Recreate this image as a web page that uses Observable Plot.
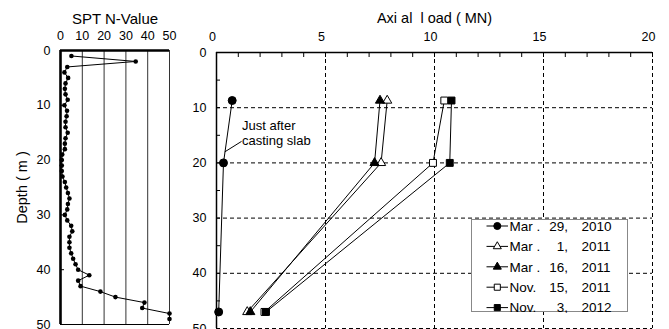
<!DOCTYPE html>
<html><head><meta charset="utf-8">
<script src="https://cdn.jsdelivr.net/npm/d3@7"></script>
<script src="https://cdn.jsdelivr.net/npm/@observablehq/plot@0.6"></script>
<style>
body{margin:0;background:#fff;}
#wrap{position:relative;width:669px;height:329px;overflow:hidden;background:#fff;font-family:"Liberation Sans",Arial,sans-serif;}
#wrap > svg{position:absolute;top:0;}
</style></head><body><div id="wrap"></div>
<script>
// ---- SPT N-value profile ----
const sptDepth = [1,2,3,4,5,6,7,8,9,10,11,12,13,14,15,16,17,18,19,20,21,22,23,24,25,26,27,28,29,30,31,32,33,34,35,36,37,38,39,40,41,42,43,44,45,46,47,48,49];
const sptN = [5.0,34.5,3.1,1.8,3.5,2.3,2.0,2.3,3.3,1.8,3.0,2.8,2.3,2.3,3.3,2.3,2.0,2.0,0.8,0.6,0.6,0.6,0.9,2.0,2.6,3.4,4.1,3.4,3.1,2.0,3.1,4.9,5.4,4.1,4.1,4.1,4.9,5.8,6.9,8.1,13.2,8.1,9.2,18.3,25.2,38.5,37.5,50,50];
const sptTicks = [0,10,20,30,40,50];
const sptGrid = [10,20,30,40,50];
const depthTicks = [0,10,20,30,40,50];
const depthInnerTicks = [10,20,30,40];

// ---- Axial load profiles ----
const loadTicks = [0,5,10,15,20];
const loadMinorTicks = [0,1,2,3,4,5,6,7,8,9,10,11,12,13,14,15,16,17,18,19,20];
const depthMinorTicks = [0,5,10,15,20,25,30,35,40,45,50];
const loadGridX = [5,10,15,20];
const loadGridY = [10,20,30,40,50];
const loadDepths = [8.7, 20, 47];
const surveyDates = ["Mar. 29, 2010","Mar. 1, 2011","Mar. 16, 2011","Nov. 15, 2011","Nov. 3, 2012"];
const loadMar29_2010 = [0.72, 0.32, 0.10];
const loadMar01_2011 = [7.83, 7.55, 1.41];
const loadMar16_2011 = [7.50, 7.25, 1.55];
const loadNov15_2011 = [10.45, 9.93, 2.20];
const loadNov03_2012 = [10.78, 10.70, 2.27];
const seriesLoads = [loadMar29_2010, loadMar01_2011, loadMar16_2011, loadNov15_2011, loadNov03_2012];
const seriesSymbol = ["circle","triangle","triangle","square","square"];
const seriesFill = ["#000","#fff","#000","#fff","#000"];
const seriesR = [4, 3.4, 3.4, 3.9, 3.9];
const legendMonth = ["Mar .","Mar .","Mar .","Nov.","Nov."];
const legendDay = ["29,","1,","16,","15,","3,"];
const legendYear = ["2010","2011","2011","2011","2012"];
const annotationText = ["Just after\ncasting slab"];
const annotationAt = {load: 1.17, depth: 14.6};
const leader = {load1: 0.38, depth1: 18.0, load2: 1.15, depth2: 16.1};

const FONT = '"Liberation Sans", Arial, sans-serif';
const wrap = document.getElementById("wrap");

// ---------- left panel ----------
const sptRows = sptDepth.map((d, i) => ({depth: d, n: sptN[i]}));
const left = Plot.plot({
  width: 180, height: 329,
  marginLeft: 60, marginRight: 11, marginTop: 50, marginBottom: 5,
  x: {domain: [0, 50]},
  y: {domain: [0, 50], reverse: true},
  style: {fontFamily: FONT, fontSize: "12.5px", color: "#000", background: "transparent", overflow: "visible"},
  marks: [
    Plot.ruleX(sptGrid, {stroke: "#333", strokeWidth: 1}),
    Plot.ruleY([50], {stroke: "#000", strokeWidth: 1}),
    Plot.line(sptRows, {x: "n", y: "depth", stroke: "#000", strokeWidth: 1}),
    Plot.dot(sptRows, {x: "n", y: "depth", r: 2.3, fill: "#000"}),
    Plot.ruleX([0], {stroke: "#000", strokeWidth: 2.6}),
    Plot.ruleY([0], {stroke: "#000", strokeWidth: 2.6}),
    Plot.axisX({anchor: "top", ticks: sptTicks, tickSize: 0, tickPadding: 11, label: null, fill: "#000"}),
    Plot.axisY({anchor: "left", ticks: depthTicks, tickSize: 0, tickPadding: 10, label: null, fill: "#000"}),
    Plot.axisY({anchor: "left", ticks: depthInnerTicks, tickSize: -4, tickFormat: () => "", label: null, stroke: "#000"}),
    Plot.text(["SPT N-Value"], {frameAnchor: "top", dy: -31, lineAnchor: "middle", fontSize: 15, fill: "#000"}),
    Plot.text(["Depth ( m )"], {frameAnchor: "left", dx: -38.5, rotate: -90, textAnchor: "middle", lineAnchor: "middle", fontSize: 14.5, fill: "#000"})
  ]
});
left.style.left = "0px";
wrap.appendChild(left);

// ---------- right panel ----------
const seriesMarks = [];
seriesLoads.forEach((vals, s) => {
  const rows = vals.map((v, i) => ({load: v, depth: loadDepths[i], date: surveyDates[s]}));
  seriesMarks.push(Plot.line(rows, {x: "load", y: "depth", stroke: "#000", strokeWidth: 1}));
});
seriesLoads.forEach((vals, s) => {
  const rows = vals.map((v, i) => ({load: v, depth: loadDepths[i], date: surveyDates[s]}));
  seriesMarks.push(Plot.dot(rows, {x: "load", y: "depth", symbol: () => seriesSymbol[s], r: seriesR[s], fill: seriesFill[s], stroke: "#000", strokeWidth: 1}));
});

const right = Plot.plot({
  width: 489, height: 329,
  marginLeft: 36, marginRight: 17, marginTop: 52, marginBottom: 1,
  x: {domain: [0, 20]},
  y: {domain: [0, 50], reverse: true},
  symbol: {type: "identity"},
  style: {fontFamily: FONT, fontSize: "12.5px", color: "#000", background: "transparent", overflow: "visible"},
  marks: [
    Plot.ruleX(loadGridX, {stroke: "#000", strokeWidth: 1, strokeDasharray: "4,3"}),
    Plot.ruleY(loadGridY, {stroke: "#000", strokeWidth: 1, strokeDasharray: "4,3"}),
    Plot.ruleX([0], {stroke: "#000", strokeWidth: 1.5}),
    Plot.ruleY([0], {stroke: "#000", strokeWidth: 1.5}),
    Plot.axisX({anchor: "top", ticks: loadMinorTicks, tickSize: -4, tickFormat: () => "", label: null, stroke: "#000"}),
    Plot.axisY({anchor: "left", ticks: depthMinorTicks, tickSize: -4, tickFormat: () => "", label: null, stroke: "#000"}),
    Plot.axisX({anchor: "top", ticks: loadTicks, tickSize: 0, tickPadding: 12, dx: -4, label: null, fill: "#000"}),
    Plot.axisY({anchor: "left", ticks: depthTicks, tickSize: 0, tickPadding: 10, label: null, fill: "#000"}),
    Plot.text(["Axi al  l oad ( MN)"], {frameAnchor: "top", dy: -34, lineAnchor: "middle", fontSize: 14.5, fill: "#000"}),
    Plot.link([leader], {x1: "load1", y1: "depth1", x2: "load2", y2: "depth2", stroke: "#000", strokeWidth: 1}),
    Plot.text(annotationText, {x: () => annotationAt.load, y: () => annotationAt.depth, textAnchor: "start", lineAnchor: "middle", lineHeight: 1.15, fontSize: 13, fill: "#000"}),
    ...seriesMarks
  ]
});
right.style.left = "180px";
wrap.appendChild(right);

// ---------- legend (inside the load panel) ----------
const lg = d3.select(wrap).append("svg")
  .attr("width", 158).attr("height", 94)
  .style("left", "471px").style("top", "219px")
  .style("font-family", FONT).style("font-size", "13.5px");
lg.append("rect").attr("x", 0.5).attr("y", 0.5).attr("width", 156).attr("height", 92)
  .attr("fill", "#fff").attr("stroke", "#888").attr("stroke-width", 1);
const symMap = {circle: d3.symbolCircle, triangle: d3.symbolTriangle, square: d3.symbolSquare};
surveyDates.forEach((d, i) => {
  const cy = 7 + i * 20.4;
  const g = lg.append("g").attr("transform", `translate(0,${cy})`);
  g.append("line").attr("x1", 15.5).attr("x2", 37).attr("y1", 0).attr("y2", 0).attr("stroke", "#000");
  const r = seriesR[i] * 0.88;
  g.append("path").attr("d", d3.symbol(symMap[seriesSymbol[i]], r * r * Math.PI)())
    .attr("transform", "translate(26.3,0)").attr("fill", seriesFill[i]).attr("stroke", "#000");
  g.append("text").attr("x", 38.5).attr("dy", "0.35em").text(legendMonth[i]);
  g.append("text").attr("x", 97).attr("dy", "0.35em").attr("text-anchor", "end").text(legendDay[i]);
  g.append("text").attr("x", 110.5).attr("dy", "0.35em").text(legendYear[i]);
});
</script>
</body></html>
